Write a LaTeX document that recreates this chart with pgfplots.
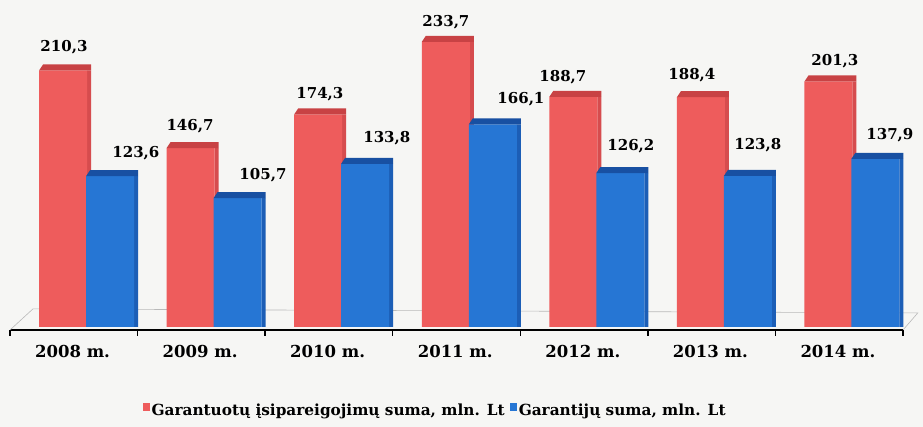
\documentclass[border=0pt]{standalone}
\usepackage{fontspec}
\setmainfont{DejaVu Serif}
\usepackage{pgfplots}
\pgfplotsset{compat=1.18}
\definecolor{redF}{RGB}{238,92,92}
\definecolor{redT}{RGB}{200,66,68}
\definecolor{redS}{RGB}{214,76,78}
\definecolor{blueF}{RGB}{38,118,212}
\definecolor{blueT}{RGB}{24,80,162}
\definecolor{blueS}{RGB}{28,94,182}
\definecolor{bg}{RGB}{246,246,244}
\pgfdeclareplotmark{topL}{%
 \pgfpathmoveto{\pgfpoint{-47.5pt}{0pt}}%
 \pgfpathlineto{\pgfpoint{-43.5pt}{6pt}}%
 \pgfpathlineto{\pgfpoint{4.5pt}{6pt}}%
 \pgfpathlineto{\pgfpoint{4.5pt}{0pt}}%
 \pgfpathclose\pgfusepathqfill}
\pgfdeclareplotmark{topR}{%
 \pgfpathmoveto{\pgfpoint{-0.5pt}{0pt}}%
 \pgfpathlineto{\pgfpoint{3.5pt}{6pt}}%
 \pgfpathlineto{\pgfpoint{51.5pt}{6pt}}%
 \pgfpathlineto{\pgfpoint{51.5pt}{0pt}}%
 \pgfpathclose\pgfusepathqfill}
\pgfplotstableread{
x y
0 210.3
1 146.7
2 174.3
3 233.7
4 188.7
5 188.4
6 201.3
}\redtab
\pgfplotstableread{
x y
0 123.6
1 105.7
2 133.8
3 166.1
4 126.2
5 123.8
6 137.9
}\bluetab
\pgfplotstableread{
x y lab
-0.177 229.3 210,3
0.387 142.2 123,6
0.811 164.8 146,7
1.383 124.4 105,7
1.829 190.5 174,3
2.354 155.0 133,8
2.817 249.8 233,7
3.405 186.6 166,1
3.734 205.0 188,7
4.267 148.2 126,2
4.745 206.2 188,4
5.262 149.3 123,8
5.866 218.1 201,3
6.297 157.1 137,9
}\labtab
\begin{document}
\begin{tikzpicture}
\fill[bg] (0,0) rectangle (923pt,427pt);
\begin{axis}[
  at={(10pt,97pt)}, anchor=south west, scale only axis,
  width=893pt, height=325pt,
  xmin=-0.6, xmax=6.4, ymin=-2.5, ymax=264,
  clip=false,
  axis y line=none,
  axis x line*=bottom,
  x axis line style={-, line width=1.6pt, black},
  tick align=outside,
  xtick={-0.11,0.89,1.89,2.89,3.89,4.89,5.89},
  xticklabels={2008 m.,2009 m.,2010 m.,2011 m.,2012 m.,2013 m.,2014 m.},
  major tick length=0pt,
  extra x ticks={-0.6,0.4,1.4,2.4,3.4,4.4,5.4,6.4},
  extra x tick labels={},
  extra x tick style={major tick length=6pt, tick style={line width=1.3pt, black}},
  xticklabel style={font=\fontsize{16.5}{19}\selectfont\bfseries, yshift=-12pt},
  legend columns=2,
  legend style={at={(axis description cs:0.476,-0.249)}, anchor=center,
    draw=none, fill=none, font=\fontsize{15.3}{17}\selectfont\bfseries,
    /tikz/every even column/.append style={column sep=3pt},
    nodes={inner sep=2pt}},
  legend image code/.code={\fill[#1] (0pt,0pt) rectangle (7pt,7.5pt);},
]
\draw[gray!55, line width=0.6pt] (axis cs:-0.6,-2.5) -- (axis cs:-0.42,14.8) -- (axis cs:6.516,11.5) -- (axis cs:6.4,-2.5);
% red bars
\addplot[ybar, bar width=4pt, bar shift=2.5pt, fill=redS, draw=none, forget plot] table[x=x,y=y] {\redtab};
\addplot[only marks, mark=topL, color=redT, mark options={fill=redT, draw=none}, forget plot] table[x=x,y=y] {\redtab};
\addplot[ybar, bar width=48pt, bar shift=-23.5pt, fill=redF, draw=none] table[x=x,y=y] {\redtab};
\addlegendentry{Garantuotų įsipareigojimų suma, mln. Lt}
% blue bars
\addplot[ybar, bar width=4pt, bar shift=49.5pt, fill=blueS, draw=none, forget plot] table[x=x,y=y] {\bluetab};
\addplot[only marks, mark=topR, color=blueT, mark options={fill=blueT, draw=none}, forget plot] table[x=x,y=y] {\bluetab};
\addplot[ybar, bar width=48pt, bar shift=23.5pt, fill=blueF, draw=none] table[x=x,y=y] {\bluetab};
\addlegendentry{Garantijų suma, mln. Lt}
% value labels
\addplot[draw=none, mark=none, forget plot, nodes near coords, point meta=explicit symbolic,
  nodes near coords style={anchor=center, font=\fontsize{15}{17}\selectfont\bfseries, text=black}]
  table[x=x,y=y,meta=lab] {\labtab};
\end{axis}
\pgfresetboundingbox
\useasboundingbox (0,0) rectangle (923pt,427pt);
\end{tikzpicture}
\end{document}
